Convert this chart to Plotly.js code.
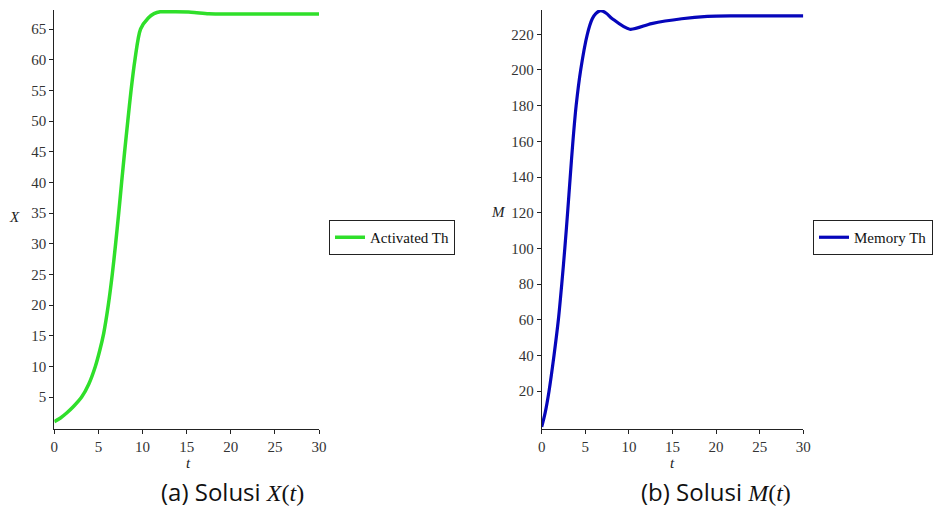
<!DOCTYPE html>
<html>
<head>
<meta charset="utf-8">
<script src="https://cdn.plot.ly/plotly-3.0.1.min.js"></script>
<style>html,body{margin:0;padding:0;background:#fff}#chart{width:943px;height:508px}</style>
</head>
<body>
<div id="chart"></div>
<script>
// Activated Th, X(t)
const tX = [0, 0.7, 1.4, 2.2, 3.1, 3.9, 4.65, 5.15, 5.6, 6.12, 6.57, 6.95, 7.3, 7.63, 7.97, 8.33, 8.7, 9.14, 9.78, 10.65, 11.3, 12, 13.5, 15.5, 17.5, 20, 25, 30];
const X  = [1.0, 1.6, 2.4, 3.5, 5, 7.1, 10, 12.6, 15.4, 20, 25, 30, 35, 40, 45, 50, 55, 60, 65, 66.8, 67.5, 67.8, 67.8, 67.75, 67.5, 67.45, 67.45, 67.45];
// Memory Th, M(t)
const tM = [0, 0.4, 0.84, 1.41, 1.91, 2.3, 2.65, 2.97, 3.27, 3.58, 3.95, 4.47, 5.23, 5.8, 6.2, 6.77, 7.4, 8.1, 10.1, 12.6, 16.05, 19, 22, 26, 30];
const M  = [0, 8, 20, 40, 60, 80, 100, 120, 140, 160, 180, 200, 220, 228.7, 231.6, 233.3, 231.8, 228.7, 222.8, 226, 228.7, 230, 230.3, 230.3, 230.3];

const xTicks = [0, 5, 10, 15, 20, 25, 30];
const yTicksX = [5, 10, 15, 20, 25, 30, 35, 40, 45, 50, 55, 60, 65];
const yTicksM = [20, 40, 60, 80, 100, 120, 140, 160, 180, 200, 220];

const nameX = 'Activated Th';
const nameM = 'Memory Th';
const capA = '(a) Solusi <span style="font-family:Liberation Serif,serif"><i>X</i>(<i>t</i>)</span>';
const capB = '(b) Solusi <span style="font-family:Liberation Serif,serif"><i>M</i>(<i>t</i>)</span>';

const W = 943, H = 508;
const px = v => v / W, py = v => 1 - v / H;

const serif = 'Liberation Serif, Times New Roman, serif';
const tickFont = {family: serif, size: 15, color: '#333'};
const axBase = {
  showline: true, linecolor: '#222', linewidth: 1, mirror: false,
  ticks: 'outside', ticklen: 4, tickcolor: '#222', tickwidth: 1,
  showgrid: false, zeroline: false, tickfont: tickFont, fixedrange: true
};

const data = [
  {x: tX, y: X, type: 'scatter', mode: 'lines', name: nameX, xaxis: 'x', yaxis: 'y',
   line: {color: '#2fdf2a', width: 3.5, shape: 'spline', smoothing: 0.8}, legend: 'legend'},
  {x: tM, y: M, type: 'scatter', mode: 'lines', name: nameM, xaxis: 'x2', yaxis: 'y2',
   line: {color: '#0606bb', width: 3.2, shape: 'spline', smoothing: 0.8}, legend: 'legend2'}
];

const legBase = {
  bgcolor: '#fff', bordercolor: '#222', borderwidth: 1,
  font: {family: serif, size: 15, color: '#111'},
  xanchor: 'left', yanchor: 'top', tracegroupgap: 0
};

const annFont = {family: serif, size: 15, color: '#222'};
const capFont = {family: 'Open Sans, Noto Sans, sans-serif', size: 24, color: '#111'};
const ann = (text, x, y, font) => ({text, xref: 'paper', yref: 'paper', x: px(x), y: py(y),
  xanchor: 'center', yanchor: 'middle', showarrow: false, font});

const layout = {
  width: W, height: H,
  margin: {l: 0, r: 0, t: 0, b: 0},
  paper_bgcolor: '#fff', plot_bgcolor: '#fff',
  showlegend: true,
  xaxis: Object.assign({}, axBase, {domain: [px(54.3), px(319)], range: [0, 30], tickvals: xTicks, anchor: 'y'}),
  yaxis: Object.assign({}, axBase, {domain: [py(429), py(10)], range: [-0.2, 68.1], tickvals: yTicksX, anchor: 'x'}),
  xaxis2: Object.assign({}, axBase, {domain: [px(541.7), px(803.3)], range: [0, 30], tickvals: xTicks, anchor: 'y2'}),
  yaxis2: Object.assign({}, axBase, {domain: [py(429), py(10)], range: [-1.2, 233.6], tickvals: yTicksM, anchor: 'x2'}),
  legend: Object.assign({}, legBase, {x: px(329), y: py(220)}),
  legend2: Object.assign({}, legBase, {x: px(813), y: py(220)}),
  annotations: [
    ann('<i>X</i>', 15, 217, annFont),
    ann('<i>t</i>', 188, 463, annFont),
    ann('<i>M</i>', 498, 212, annFont),
    ann('<i>t</i>', 672, 463, annFont),
    ann(capA, 232, 491, capFont),
    ann(capB, 716, 491, capFont)
  ]
};

Plotly.newPlot('chart', data, layout, {staticPlot: true, displayModeBar: false});
</script>
</body>
</html>
